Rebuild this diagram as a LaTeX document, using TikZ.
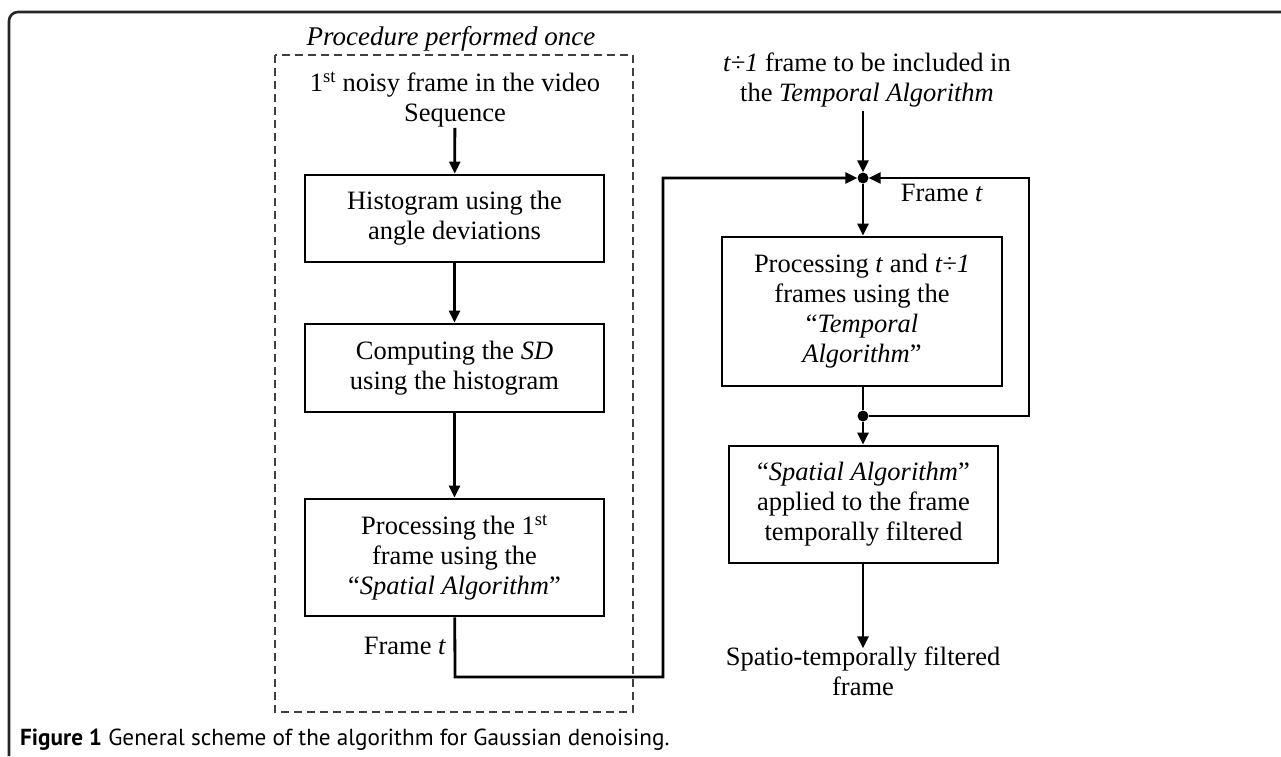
\documentclass[tikz,border=0pt]{standalone}
\usepackage{fontspec}
\setmainfont{Liberation Serif}
\newfontfamily\capfont{PT Sans}
\usetikzlibrary{arrows.meta}

\begin{document}
\begin{tikzpicture}[x=1pt, y=-1pt,
        font=\fontsize{26.5}{30}\selectfont,
        box/.style={draw, line width=2.8pt, align=center, inner sep=0pt},
        txt/.style={align=center, inner sep=0pt},
        arr/.style={-{Triangle[length=12pt,width=11pt]}, line width=2.8pt},
        wire/.style={line width=2.8pt},
        dot/.style={circle, fill, inner sep=0pt, minimum size=11pt}]
    \useasboundingbox (0,0) rectangle (1281,756);

    % outer frame of the figure
    \draw[line width=2.6pt, black!85, rounded corners=9pt] (1281,12) -- (9,12) -- (9,756);

    % part done only for the first frame
    \draw[line width=2.5pt, black!75, dash pattern=on 8pt off 5pt] (275,55) rectangle (633,712);
    \node[txt, font=\fontsize{27}{30}\selectfont\itshape] (once) at (451,39) {Procedure performed once};

    \node[txt] (first) at (455,100) {1\textsuperscript{st} noisy frame in the video\\Sequence};
    \node[box, minimum width=299pt, minimum height=87pt] (hist) at (454.5,218.5)
        {Histogram using the\\angle deviations};
    \node[box, minimum width=299pt, minimum height=88pt] (sd) at (454.5,368)
        {Computing the \textit{SD}\\using the histogram};
    \node[box, minimum width=299pt, minimum height=117pt] (spat1) at (454.5,557.5)
        {Processing the 1\textsuperscript{st}\\frame using the\\``\textit{Spatial Algorithm}''};
    \node[txt] (framel) at (405,646) {Frame \textit{t}};

    \draw[arr] (first) -- (hist);
    \draw[arr] (hist) -- (sd);
    \draw[arr] (sd) -- (spat1);

    % temporal part, repeated for every new frame
    \node[txt] (next) at (867,80) {\textit{t÷1} frame to be included in\\the \textit{Temporal Algorithm}};
    \node[dot] (join) at (863,178) {};
    \node[box, minimum width=280pt, minimum height=149pt] (temp) at (862,311.5)
        {Processing \textit{t} and \textit{t÷1}\\frames using the\\``\textit{Temporal}\\\textit{Algorithm}''};
    \node[dot] (split) at (863,416) {};
    \node[box, minimum width=269pt, minimum height=117pt] (spat2) at (863.5,504.5)
        {``\textit{Spatial Algorithm}''\\applied to the frame\\temporally filtered};
    \node[txt] (result) at (863,671) {Spatio-temporally filtered\\frame};
    \node[txt] (framer) at (942,193) {Frame \textit{t}};

    \coordinate (c1) at (455,677);
    \coordinate (c2) at (663,677);
    \coordinate (c3) at (1029,416);
    \coordinate (c4) at (1029,178);

    \draw[arr] ([yshift=-4pt]join |- next.south) -- (join);
    \draw[arr] (spat1) -- (c1) -- (c2) |- (join);
    \draw[arr] (join) -- (join |- temp.north);
    \draw[wire] (join |- temp.south) -- (split);
    \draw[arr] (split) -- (c3) -- (c4) -- (join);
    \draw[arr] (split) -- (split |- spat2.north);
    \draw[arr] (split |- spat2.south) -- ([yshift=-2pt]split |- result.north);

    % caption
    \node[anchor=west, inner sep=0pt, font=\capfont\fontsize{23.2}{25}\selectfont] (caption) at (20,740)
        {\textbf{Figure 1} General scheme of the algorithm for Gaussian denoising.};
\end{tikzpicture}
\end{document}
